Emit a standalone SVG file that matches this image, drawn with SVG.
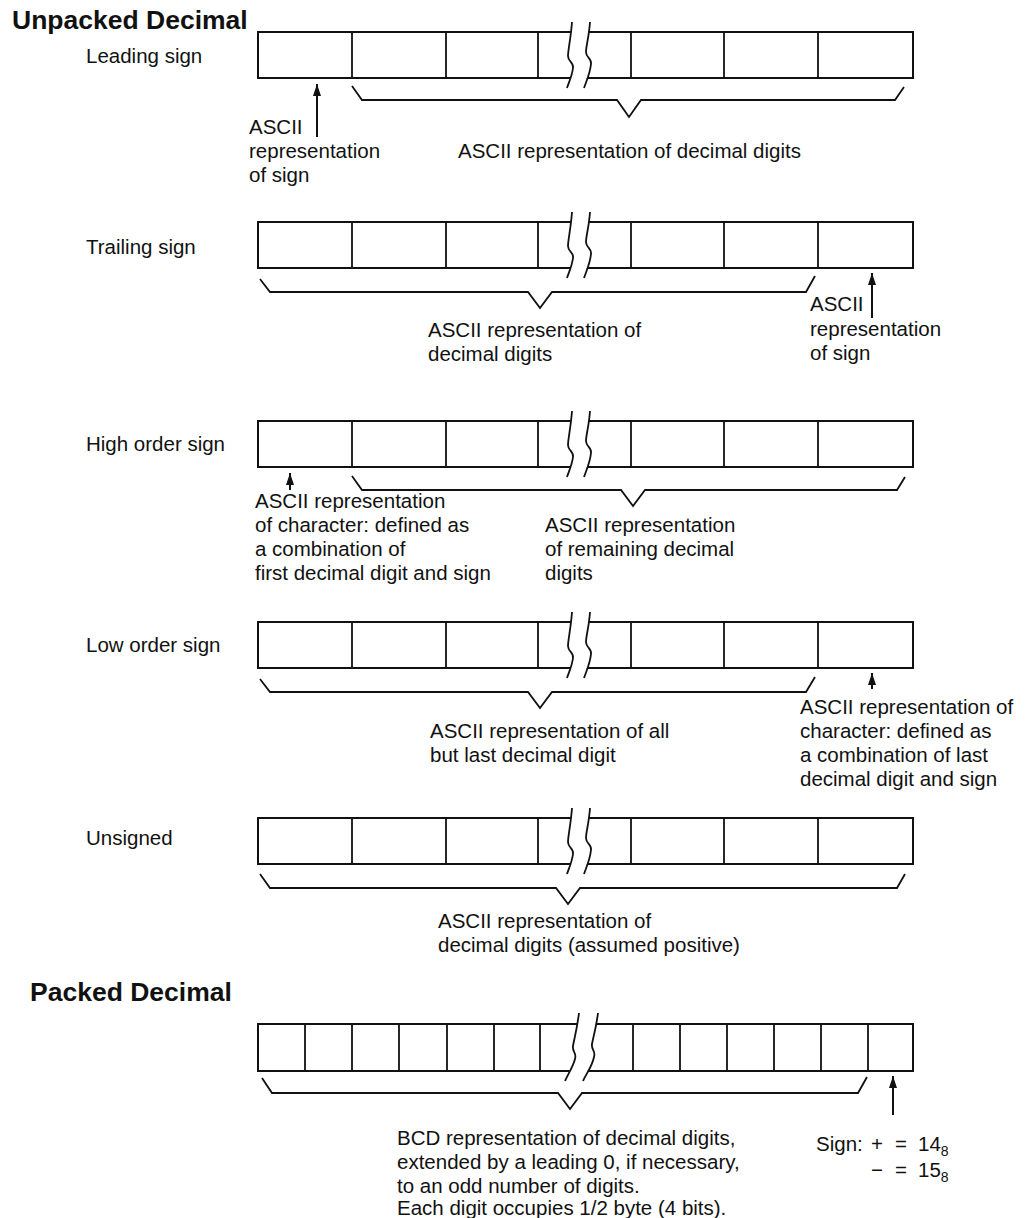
<svg xmlns="http://www.w3.org/2000/svg" width="1030" height="1218" viewBox="0 0 1030 1218">
<style>
text{font-family:"Liberation Sans",Arial,sans-serif;font-size:20.5px;fill:#111}
.h{font-weight:bold;font-size:26.5px}
.box{fill:none;stroke:#111;stroke-width:2}
.dv{stroke:#111;stroke-width:1.8}
.brace{fill:none;stroke:#111;stroke-width:1.8;stroke-linejoin:miter}
.wave{fill:none;stroke:#111;stroke-width:1.8}
.gap{fill:#fff;stroke:none}
.arr{stroke:#111;stroke-width:2;fill:none}
.sub{font-size:14px}
</style>
<defs>
<marker id="ah" markerUnits="userSpaceOnUse" markerWidth="10" markerHeight="14" refX="12" refY="4" orient="auto">
<path d="M0,0 L12,4 L0,8 Z" fill="#111"/>
</marker>
<g id="brk">
<polygon class="gap" points="572,-10 568,24 573,36 567,56 584,56 591,32 586,20 590,-10"/>
<path class="wave" d="M572,-10 C571,5 568,18 568,24 C568,30 574,30 573,36 C572,44 569,50 567,56"/>
<path class="wave" d="M590,-10 C589,5 586,14 586,20 C586,26 592,26 591,32 C590,42 586,50 584,56"/>
</g>
<g id="brkp">
<polygon class="gap" points="579,-11 573,22 575,35 565,57 583,57 594,33 592,20 598,-11"/>
<path class="wave" d="M579,-11 C577,5 574,16 573,22 C572,28 577,29 575,35 C573,43 568,50 565,57"/>
<path class="wave" d="M598,-11 C596,5 593,14 592,20 C591,26 596,27 594,33 C592,43 586,50 583,57"/>
</g>
<g id="cells">
<rect class="box" x="258" y="0" width="655" height="46"/>
<path class="dv" d="M352,0V46 M446,0V46 M538,0V46 M631,0V46 M724,0V46 M818,0V46"/>
<use href="#brk"/>
</g>
</defs>

<text class="h" x="12" y="29">Unpacked Decimal</text>
<text class="h" x="30" y="1001">Packed Decimal</text>

<g id="leading-sign">
<text x="86" y="63">Leading sign</text>
<use href="#cells" y="32"/>
</g>
<g id="trailing-sign">
<text x="86" y="254">Trailing sign</text>
<use href="#cells" y="222"/>
</g>
<g id="high-order-sign">
<text x="86" y="451">High order sign</text>
<use href="#cells" y="421"/>
</g>
<g id="low-order-sign">
<text x="86" y="652">Low order sign</text>
<use href="#cells" y="622"/>
</g>
<g id="unsigned">
<text x="86" y="845">Unsigned</text>
<use href="#cells" y="818"/>
</g>
<g id="packed">
<rect class="box" x="258" y="1024" width="655" height="47"/>
<path class="dv" d="M305,1024v47 M352,1024v47 M399,1024v47 M447,1024v47 M494,1024v47 M540,1024v47 M633,1024v47 M680,1024v47 M727,1024v47 M774,1024v47 M821,1024v47 M868,1024v47"/>
<use href="#brkp" y="1024"/>
</g>

<g id="connectors">
<path class="brace" d="M352,86 L362,100 L617,100 L629,117 L641,100 L895,100 L904,87"/>
<line class="arr" x1="317" y1="137" x2="317" y2="84" marker-end="url(#ah)"/>
<path class="brace" d="M260,279 L270,292 L528,292 L540,308 L552,292 L806,292 L815,276"/>
<line class="arr" x1="872" y1="318" x2="872" y2="273" marker-end="url(#ah)"/>
<path class="brace" d="M352,476 L362,490 L621,490 L633,506 L645,490 L897,490 L905,477"/>
<line class="arr" x1="290" y1="490" x2="290" y2="473" marker-end="url(#ah)"/>
<path class="brace" d="M260,679 L270,692 L528,692 L540,708 L552,692 L806,692 L815,677"/>
<line class="arr" x1="872" y1="689" x2="872" y2="673" marker-end="url(#ah)"/>
<path class="brace" d="M260,874 L270,888 L556,888 L568,904 L580,888 L897,888 L905,874"/>
<path class="brace" d="M262,1078 L272,1093 L558,1093 L570,1109 L582,1093 L858,1093 L867,1077"/>
<line class="arr" x1="893" y1="1115" x2="893" y2="1076" marker-end="url(#ah)"/>
</g>

<g id="labels">
<text x="249" y="134">ASCII</text>
<text x="249" y="158">representation</text>
<text x="249" y="182">of sign</text>
<text x="458" y="158">ASCII representation of decimal digits</text>

<text x="810" y="311">ASCII</text>
<text x="810" y="336">representation</text>
<text x="810" y="360">of sign</text>
<text x="428" y="337">ASCII representation of</text>
<text x="428" y="361">decimal digits</text>

<text x="255" y="508">ASCII representation</text>
<text x="255" y="532">of character: defined as</text>
<text x="255" y="556">a combination of</text>
<text x="255" y="580">first decimal digit and sign</text>
<text x="545" y="532">ASCII representation</text>
<text x="545" y="556">of remaining decimal</text>
<text x="545" y="580">digits</text>

<text x="800" y="714">ASCII representation of</text>
<text x="800" y="738">character: defined as</text>
<text x="800" y="762">a combination of last</text>
<text x="800" y="786">decimal digit and sign</text>
<text x="430" y="738">ASCII representation of all</text>
<text x="430" y="762">but last decimal digit</text>

<text x="438" y="928">ASCII representation of</text>
<text x="438" y="952">decimal digits (assumed positive)</text>

<text x="397" y="1145">BCD representation of decimal digits,</text>
<text x="397" y="1169">extended by a leading 0, if necessary,</text>
<text x="397" y="1193">to an odd number of digits.</text>
<text x="397" y="1215">Each digit occupies 1/2 byte (4 bits).</text>

<text x="816" y="1151">Sign:</text>
<text x="871" y="1151">+</text>
<text x="895" y="1151">=</text>
<text x="918" y="1151">14<tspan class="sub" dy="5">8</tspan></text>
<text x="871" y="1177">−</text>
<text x="895" y="1177">=</text>
<text x="918" y="1177">15<tspan class="sub" dy="5">8</tspan></text>
</g>
</svg>
